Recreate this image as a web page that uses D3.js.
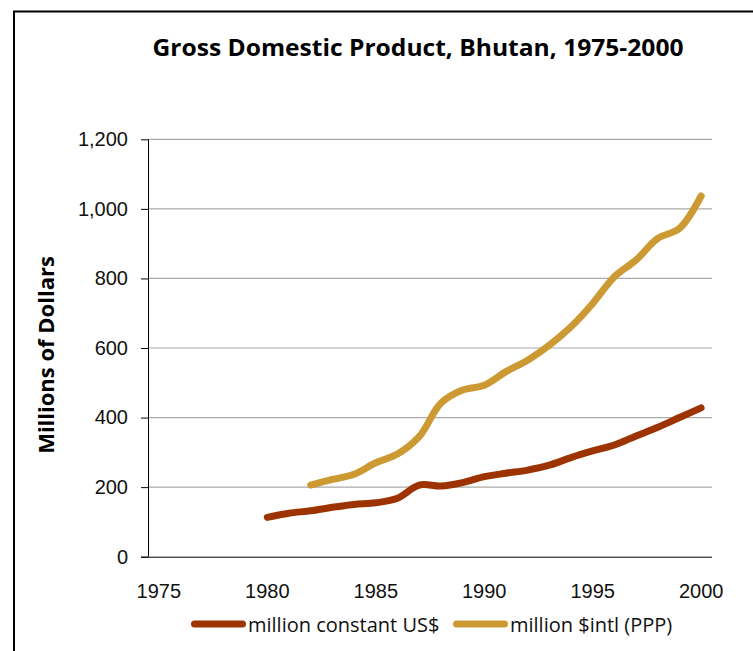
<!DOCTYPE html>
<html>
<head>
<meta charset="utf-8">
<script src="https://cdn.jsdelivr.net/npm/d3@7"></script>
<style>
  body { margin: 0; background: #fff; }
  svg { display: block; font-family: "Open Sans", sans-serif; }
</style>
</head>
<body>
<svg width="753" height="651"></svg>
<script>
// data
var years = d3.range(1975, 2001);
var tickYears = [1975, 1980, 1985, 1990, 1995, 2000];
var yTicks = [0, 200, 400, 600, 800, 1000, 1200];

var usdYears = d3.range(1980, 2001);
var usdValues = [113, 125, 132, 142, 150, 155, 168, 206, 203, 213, 230,
                 240, 249, 263, 285, 304, 321, 347, 372, 400, 428];

var pppYears = d3.range(1982, 2001);
var pppValues = [206, 222, 237, 270, 295, 345, 441, 479, 493, 532,
                 565, 608, 661, 728, 805, 853, 915, 944, 1037];

var seriesNames = ["million constant US$", "million $intl (PPP)"];
var seriesColors = ["#9c3300", "#cc9933"];

function drawPlot() {
	var svg = d3.select("svg");
	var margin = {left: 148, top: 139.3, right: 41, bottom: 94.3};
	var width = svg.attr("width") - margin.left - margin.right,
		height = svg.attr("height") - margin.top - margin.bottom;

	// outer frame (runs past the right and bottom edges)
	svg.append("rect")
		.attr("x", 14).attr("y", 11.5)
		.attr("width", 800).attr("height", 700)
		.attr("fill", "none").attr("stroke", "#000").attr("stroke-width", 2);

	svg.append("text")
		.attr("x", 418).attr("y", 56)
		.attr("text-anchor", "middle")
		.style("font-weight", "bold").style("font-size", "24px")
		.attr("textLength", 531).attr("lengthAdjust", "spacingAndGlyphs")
		.text("Gross Domestic Product, Bhutan, 1975-2000");

	var x = d3.scaleBand().domain(years).range([0, width]);
	var y = d3.scaleLinear().domain([0, 1200]).range([height, 0]);
	var cx = d => x(d) + x.bandwidth() / 2;

	var grp = svg.append("g")
		.attr("transform", "translate(" + margin.left + "," + margin.top + ")");

	// gridlines
	grp.append("g").selectAll("line").data(yTicks.filter(d => d > 0))
		.enter().append("line")
		.attr("x1", 0).attr("x2", width)
		.attr("y1", d => y(d)).attr("y2", d => y(d))
		.attr("stroke", "#aaa").attr("stroke-width", 1.2);

	var yAxis = grp.append("g")
		.call(d3.axisLeft(y).tickValues(yTicks).tickSize(7).tickPadding(13)
			.tickFormat(d3.format(",")));
	yAxis.select(".domain").attr("d", "M0.5," + y(1200) + "V" + height);
	yAxis.selectAll("text").style("font-size", "20px").attr("fill", "#111");

	var xAxis = grp.append("g")
		.attr("transform", "translate(0," + height + ")")
		.call(d3.axisBottom(x).tickValues(tickYears).tickSize(0).tickPadding(27));
	xAxis.select(".domain").attr("d", "M-7,0.5H" + width);
	xAxis.selectAll("text").style("font-size", "20px").attr("fill", "#111");

	svg.append("text")
		.attr("transform", "translate(54,355)rotate(-90)")
		.attr("text-anchor", "middle")
		.style("font-weight", "bold").style("font-size", "22px")
		.text("Millions of Dollars");

	var line = d3.line()
		.x(d => cx(d[0]))
		.y(d => y(d[1]))
		.curve(d3.curveCatmullRom.alpha(0.5));

	var series = [d3.zip(usdYears, usdValues), d3.zip(pppYears, pppValues)];
	grp.selectAll("path.series").data(series)
		.enter().append("path")
		.attr("class", "series")
		.attr("d", line)
		.attr("fill", "none")
		.attr("stroke", (d, i) => seriesColors[i])
		.attr("stroke-width", 7)
		.attr("stroke-linecap", "round")
		.attr("stroke-linejoin", "round");

	// legend
	var legendX = [191, 453];
	var lg = svg.append("g").selectAll("g").data(seriesNames)
		.enter().append("g")
		.attr("transform", (d, i) => "translate(" + legendX[i] + ",624)");
	lg.append("line")
		.attr("x1", 3.5).attr("x2", 51.5)
		.attr("stroke", (d, i) => seriesColors[i])
		.attr("stroke-width", 7)
		.attr("stroke-linecap", "round");
	lg.append("text")
		.attr("x", 57).attr("y", 8)
		.style("font-size", "20px").attr("fill", "#111")
		.text(d => d);
}
drawPlot();
</script>
</body>
</html>
